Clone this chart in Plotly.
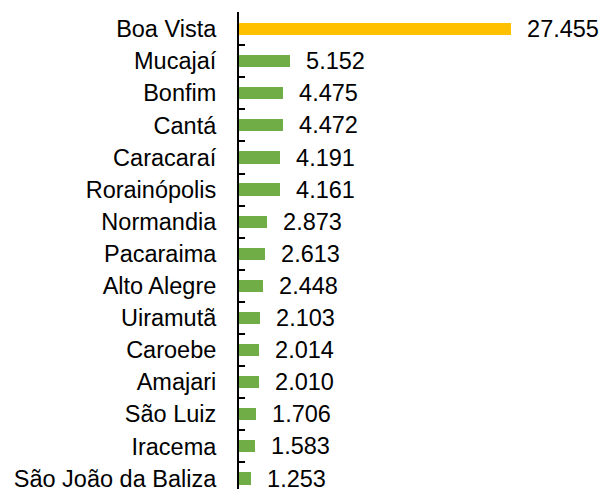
import plotly.graph_objects as go

municipios = ["Boa Vista", "Mucajaí", "Bonfim", "Cantá", "Caracaraí", "Rorainópolis",
              "Normandia", "Pacaraima", "Alto Alegre", "Uiramutã", "Caroebe", "Amajari",
              "São Luiz", "Iracema", "São João da Baliza"]
valores = [27455, 5152, 4475, 4472, 4191, 4161, 2873, 2613, 2448, 2103, 2014, 2010,
           1706, 1583, 1253]
cores = ["#FFC000"] + ["#70AD47"] * (len(municipios) - 1)

FONT = "Liberation Sans, Arial, sans-serif"
FS = 23.5

fig = go.Figure(go.Bar(
    x=valores, y=municipios, orientation="h",
    marker=dict(color=cores, line=dict(width=0)),
    width=0.38,
    texttemplate="\u00a0\u00a0%{x:,d}", textposition="outside",
    constraintext="none",
    textfont=dict(family=FONT, size=FS, color="black"),
    cliponaxis=False,
))

plot_l, plot_r = 239, 600
px_per_unit = 271.7 / 27455
band = 32.1
plot_t = 12
plot_h = 489 - plot_t
top_val = -0.5 - 1.0 / band
fig.update_layout(
    width=602, height=489,
    margin=dict(l=plot_l, r=602 - plot_r, t=plot_t, b=0, autoexpand=False),
    paper_bgcolor="white", plot_bgcolor="white",
    separators=",.",
    showlegend=False,
    bargap=0,
    font=dict(family=FONT, size=FS, color="black"),
)
fig.update_xaxes(range=[0, (plot_r - plot_l) / px_per_unit], visible=False,
                 fixedrange=True, automargin=False)
fig.update_yaxes(
    type="category",
    categoryorder="array", categoryarray=municipios,
    range=[top_val + plot_h / band, top_val],
    automargin=False, fixedrange=True,
    showline=True, linecolor="black", linewidth=2,
    ticks="inside", ticklen=6, tickwidth=2, tickcolor="black",
    tickson="boundaries",
    showgrid=False, zeroline=False,
    ticklabelstandoff=16,
    tickfont=dict(family=FONT, size=FS, color="black"),
)

fig.write_html("out.html", config={"displayModeBar": False},
               post_script="document.body.style.margin='0';document.body.style.overflow='hidden';")
